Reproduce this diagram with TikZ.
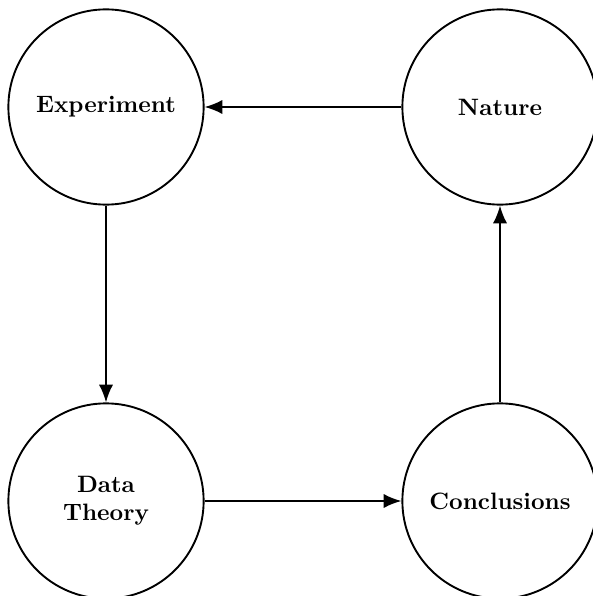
\documentclass[tikz,border=0pt]{standalone}
\usetikzlibrary{arrows.meta}
\begin{document}
\begin{tikzpicture}[x=0.422pt,y=-0.422pt,
  stage/.style={circle,draw,line width=0.8pt,minimum size=82.4pt,inner sep=0pt,
    align=center,font=\bfseries},
  flow/.style={-{Latex[length=7.5pt,width=6pt]},line width=0.8pt}]
  \useasboundingbox (0,0) rectangle (592,596);
  \node[stage] (exp)  at (106,107) {Experiment};
  \node[stage] (nat)  at (500,107) {Nature};
  \node[stage] (data) at (106,501) {Data\\Theory};
  \node[stage] (conc) at (500,501) {Conclusions};
  \draw[flow] (nat) -- (exp);
  \draw[flow] (exp) -- (data);
  \draw[flow] (data) -- (conc);
  \draw[flow] (conc) -- (nat);
\end{tikzpicture}
\end{document}
